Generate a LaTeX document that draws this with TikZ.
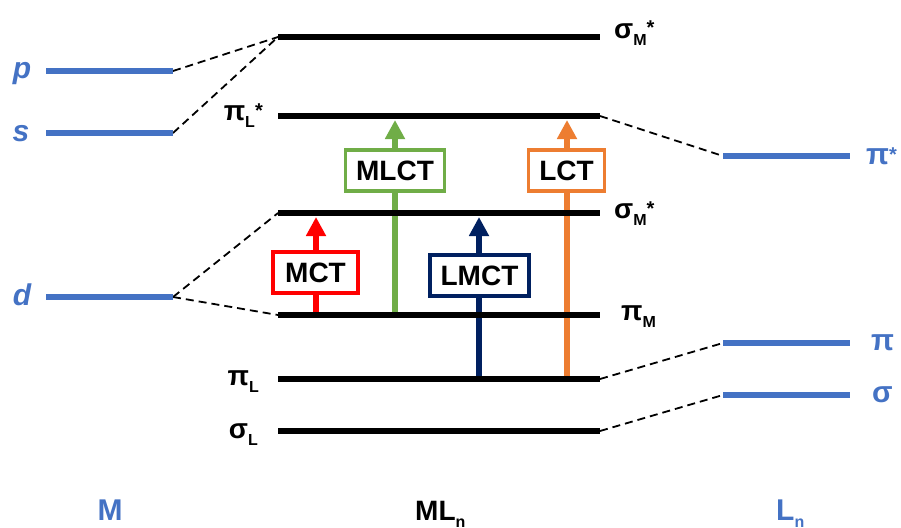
\documentclass[tikz,border=0pt]{standalone}
\usepackage{fontspec}
\setmainfont{Liberation Sans}
\usetikzlibrary{arrows.meta}
\definecolor{lvlblue}{HTML}{4472C4}
\definecolor{mctred}{HTML}{FF0000}
\definecolor{mlctgreen}{HTML}{70AD47}
\definecolor{lctorange}{HTML}{ED7D31}
\definecolor{lmctnavy}{HTML}{002060}
\newcommand\lsub[1]{\raisebox{-7pt}{\fontsize{16}{16}\selectfont #1}}
\newcommand\lsup[1]{\raisebox{3pt}{\fontsize{20}{20}\selectfont #1}}
\begin{document}
\begin{tikzpicture}[x=1pt,y=-1pt,
  lvl/.style={line width=6pt},
  blvl/.style={line width=6pt,draw=lvlblue},
  corr/.style={line width=1.8pt,dash pattern=on 8pt off 5pt},
  ctarrow/.style={line width=5.5pt,-{Triangle[width=19pt,length=19pt]}},
  ctbox/.style={draw,line width=3.5pt,fill=white,inner sep=0pt,minimum height=41pt,
    font=\fontsize{28}{30}\selectfont\bfseries},
  lab/.style={inner sep=0pt,font=\fontsize{28}{30}\selectfont\bfseries},
  blab/.style={inner sep=0pt,text=lvlblue,font=\fontsize{30}{32}\selectfont\bfseries}]
\useasboundingbox (0,0) rectangle (901,527);
% level coordinates
\coordinate (pL) at (46,71);   \coordinate (pR) at (173,71);
\coordinate (sL) at (46,133);  \coordinate (sR) at (173,133);
\coordinate (dL) at (46,297);  \coordinate (dR) at (173,297);
\coordinate (c1L) at (278,37);  \coordinate (c1R) at (600,37);
\coordinate (c2L) at (278,116); \coordinate (c2R) at (600,116);
\coordinate (c3L) at (278,213); \coordinate (c3R) at (600,213);
\coordinate (c4L) at (278,315); \coordinate (c4R) at (600,315);
\coordinate (c5L) at (278,379); \coordinate (c5R) at (600,379);
\coordinate (c6L) at (278,431); \coordinate (c6R) at (600,431);
\coordinate (r1L) at (723,156); \coordinate (r1R) at (850,156);
\coordinate (r2L) at (723,343); \coordinate (r2R) at (850,343);
\coordinate (r3L) at (723,395); \coordinate (r3R) at (850,395);
% arrow end points
\coordinate (mctA) at (316,315);  \coordinate (mctB) at (316,217);
\coordinate (mlctA) at (395,315); \coordinate (mlctB) at (395,120);
\coordinate (lmctA) at (479,379); \coordinate (lmctB) at (479,217);
\coordinate (lctA) at (567,379);  \coordinate (lctB) at (567,120);
% correlation lines
\draw[corr] (pR) -- (c1L);
\draw[corr] (sR) -- (c1L);
\draw[corr] (dR) -- (c3L);
\draw[corr] (dR) -- (c4L);
\draw[corr] (c2R) -- (r1L);
\draw[corr] (c5R) -- (r2L);
\draw[corr] (c6R) -- (r3L);
% transitions
\draw[ctarrow,draw=mctred,fill=mctred] (mctA) -- (mctB);
\draw[ctarrow,draw=mlctgreen,fill=mlctgreen] (mlctA) -- (mlctB);
\draw[ctarrow,draw=lmctnavy,fill=lmctnavy] (lmctA) -- (lmctB);
\draw[ctarrow,draw=lctorange,fill=lctorange] (lctA) -- (lctB);
\node[ctbox,draw=mctred,minimum width=85pt] (mct) at (315.5,272.5) {MCT};
\node[ctbox,draw=mlctgreen,minimum width=99pt] (mlct) at (395,170.5) {MLCT};
\node[ctbox,draw=lmctnavy,minimum width=99pt] (lmct) at (479.5,275.5) {LMCT};
\node[ctbox,draw=lctorange,minimum width=76pt] (lct) at (566.5,170.5) {LCT};
% levels
\draw[blvl] (pL) -- (pR);
\draw[blvl] (sL) -- (sR);
\draw[blvl] (dL) -- (dR);
\draw[lvl] (c1L) -- (c1R);
\draw[lvl] (c2L) -- (c2R);
\draw[lvl] (c3L) -- (c3R);
\draw[lvl] (c4L) -- (c4R);
\draw[lvl] (c5L) -- (c5R);
\draw[lvl] (c6L) -- (c6R);
\draw[blvl] (r1L) -- (r1R);
\draw[blvl] (r2L) -- (r2R);
\draw[blvl] (r3L) -- (r3R);
% labels
\node[blab,anchor=base] (lp) at (22,78) {\itshape p};
\node[blab,anchor=base] (ls) at (21,141) {\itshape s};
\node[blab,anchor=base] (ld) at (22,305) {\itshape d};
\node[lab,anchor=base west] (l1) at (614,38) {σ\lsub{M}\lsup{*}};
\node[lab,anchor=base east] (l2) at (263,120) {π\lsub{L}\lsup{*}};
\node[lab,anchor=base west] (l3) at (614,218) {σ\lsub{M}\lsup{*}};
\node[lab,anchor=base west] (l4) at (621,320) {π\lsub{M}};
\node[lab,anchor=base east] (l5) at (259,385) {π\lsub{L}};
\node[lab,anchor=base east] (l6) at (258,438) {σ\lsub{L}};
\node[blab,anchor=base west] (r1) at (866,164) {π\lsup{*}};
\node[blab,anchor=base west] (r2) at (871,350) {π};
\node[blab,anchor=base west] (r3) at (872,402) {σ};
\node[blab,anchor=base] (bm) at (110,520) {M};
\node[lab,anchor=base west] (bml) at (415,520) {ML\lsub{n}};
\node[blab,anchor=base west] (bl) at (776,520) {L\lsub{n}};
\end{tikzpicture}
\end{document}
